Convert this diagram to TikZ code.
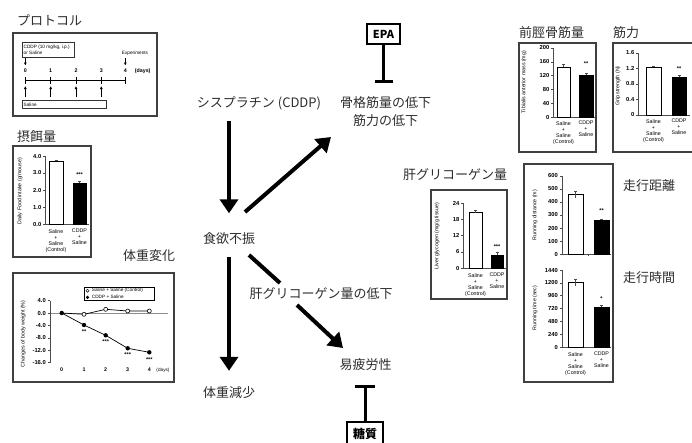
\documentclass[tikz,border=0pt]{standalone}
\usepackage{fontspec}
\setmainfont{Noto Sans CJK JP}
\newfontfamily\chartfont{Liberation Sans}
\usetikzlibrary{arrows.meta,calc}
\tikzset{
  jp/.style={font=\fontsize{13}{18}\selectfont, text=black!82, inner sep=0pt},
  ttl/.style={jp, anchor=west},
  frame/.style={draw=black!75, line width=1.1pt},
  axl/.style={draw=black!70, line width=0.5pt},
  wbar/.style={draw=black, fill=white, line width=0.9pt},
  bbar/.style={draw=black, fill=black, line width=0.9pt},
  err/.style={draw=black!70, line width=0.5pt},
  tk/.style={font=\chartfont\bfseries\fontsize{5.8}{6}\selectfont, inner sep=0pt, anchor=east},
  xl/.style={font=\chartfont\fontsize{5.3}{6}\selectfont, align=center, inner sep=0pt, anchor=north},
  yl/.style={font=\chartfont\fontsize{5.3}{6}\selectfont, rotate=90, inner sep=0pt},
  stars/.style={font=\chartfont\bfseries\fontsize{5.5}{6}\selectfont, inner sep=0pt},
  ptxt/.style={font=\chartfont\fontsize{4.7}{5.5}\selectfont, inner sep=0pt},
  pday/.style={font=\chartfont\bfseries\fontsize{5.3}{6}\selectfont, inner sep=0pt},
  pline/.style={draw=black, line width=0.8pt},
  parrow/.style={draw=black, line width=0.8pt, -{Latex[length=3pt,width=3pt]}},
  bigarrow/.style={draw=black, line width=4pt, -{Triangle[width=18pt,length=14pt]}},
  bigline/.style={draw=black, line width=4pt},
  inhib/.style={draw=black, line width=3pt},
  blocker/.style={draw=black, line width=1.5pt, fill=white, font=\bfseries\fontsize{11}{13}\selectfont, inner sep=0pt},
}
\begin{document}
\begin{tikzpicture}[x=1pt,y=-1pt]
\fill[white] (0,0) rectangle (692,442);
\useasboundingbox (0,0) rectangle (692,442);

% ---------- titles ----------
\node[ttl] (tprot) at (17,20.5) {プロトコル};
\node[ttl] (tfood) at (17,137) {摂餌量};
\node[ttl] (tbw) at (123,256) {体重変化};
\node[ttl] (tta) at (519,32.5) {前脛骨筋量};
\node[ttl] (tgrip) at (613,32.5) {筋力};
\node[ttl] (tliver) at (403,175) {肝グリコーゲン量};
\node[ttl] (tdist) at (623,186) {走行距離};
\node[ttl] (ttime) at (623,277.5) {走行時間};

% ---------- protocol ----------
\draw[frame] (13,33) rectangle (157,116);
\draw[draw=black!80, line width=0.5pt] (22,42.7) rectangle (74,57.3);
\node[ptxt, anchor=west] at (23.5,46.8) {CDDP (10 mg/kg, i.p.)};
\node[ptxt, anchor=west] at (23.5,52.6) {or Saline};
\node[ptxt] at (135,53.3) {Experiments};
\draw[parrow] (25.3,58) -- (25.3,65.5);
\draw[parrow] (125.3,58.3) -- (125.3,65.5);
\foreach \x/\d in {25.3/0,50.7/1,76/2,101.3/3,125.3/4}
  \node[pday] at (\x,70.7) {\d};
\node[pday] at (142.7,70.7) {(days)};
\draw[pline] (25.3,80) -- (125.3,80);
\foreach \x in {25.3,50.7,76,101.3,125.3}
  \draw[pline] (\x,76.5) -- (\x,83.5);
\foreach \x in {25.3,50.7,76,101.3}
  \draw[parrow] (\x,97) -- (\x,86);
\draw[draw=black!80, line width=0.5pt] (22,100.7) rectangle (106,108.7);
\node[ptxt, anchor=west] at (23.5,104.7) {Saline};

% ---------- food intake ----------
\draw[frame] (13,146) rectangle (91,257);
\draw[axl] (45,156) -- (45,224) -- (89,224);
\foreach \v/\t in {0/0.0,1/1.0,2/2.0,3/3.0,4/4.0}{
  \draw[axl] (43,224-17*\v) -- (45,224-17*\v);
  \node[tk] at (41.5,224-17*\v) {\t};}
\draw[wbar] (49,224) rectangle (63,161.1);
\draw[err] (56,161.1) -- (56,160.2) (54.5,160.2) -- (57.5,160.2);
\draw[bbar] (73,224) rectangle (86,183.2);
\draw[err] (79.5,183.2) -- (79.5,181.5) (78,181.5) -- (81,181.5);
\node[stars] at (79.5,175) {***};
\node[xl] at (56,229) {Saline\\+\\Saline\\(Control)};
\node[xl] at (79.5,229) {CDDP\\+\\Saline};
\node[yl] at (20,191) {Daily Food intake (g/mouse)};

% ---------- body weight ----------
\draw[frame] (13,273) rectangle (174,382);
\draw[draw=black!45, line width=0.6pt] (50,313) -- (168,313);
\draw[axl] (50,300.6) -- (50,362.6);
\foreach \v/\t in {4/4.0,0/0.0,-4/-4.0,-8/-8.0,-12/-12.0,-16/-16.0}{
  \draw[axl] (48,313-3.1*\v) -- (50,313-3.1*\v);
  \node[tk] at (46,313-3.1*\v) {\t};}
\foreach \x/\d in {61.7/0,84/1,105.7/2,127.7/3,149.3/4}
  \node[pday] at (\x,370) {\d};
\node[ptxt] at (163,370) {(days)};
\draw[line width=0.7pt] (61.7,313) -- (84,314.3) -- (105.7,309.3) -- (127.7,311) -- (149.3,311);
\draw[line width=0.7pt] (61.7,313) -- (84,325) -- (105.7,335.3) -- (127.7,348.3) -- (149.3,352.3);
\foreach \x/\y in {84/314.3,105.7/309.3,127.7/311,149.3/311}
  \draw[fill=white, line width=0.6pt] (\x,\y) circle (2pt);
\foreach \x/\y in {61.7/313,84/325,105.7/335.3,127.7/348.3,149.3/352.3}
  \fill[black] (\x,\y) circle (2.2pt);
\node[stars] at (84,331.5) {**};
\node[stars] at (105.7,342) {***};
\node[stars] at (127.7,355) {***};
\node[stars] at (149.3,359.5) {***};
\draw[line width=0.5pt] (84,287.3) rectangle (154,300.7);
\draw[fill=white, line width=0.5pt] (87.5,290.7) circle (1.6pt);
\fill[black] (87.5,297.3) circle (1.7pt);
\node[ptxt, anchor=west] at (91.7,290.7) {Saline + Saline (Control)};
\node[ptxt, anchor=west] at (91.7,297.3) {CDDP + Saline};
\node[yl] at (23.3,334) {Changes of body weight (\%)};

% ---------- tibialis anterior ----------
\draw[frame] (519,43) rectangle (596,152);
\draw[axl] (553,48) -- (553,117) -- (595,117);
\foreach \v in {0,40,80,120,160,200}{
  \draw[axl] (551,117-0.345*\v) -- (553,117-0.345*\v);
  \node[tk] at (549.5,117-0.345*\v) {\v};}
\draw[wbar] (557,117) rectangle (570,67);
\draw[err] (563.5,67) -- (563.5,64.5) (562,64.5) -- (565,64.5);
\draw[bbar] (579,117) rectangle (593,75);
\draw[err] (586,75) -- (586,73.5) (584.5,73.5) -- (587.5,73.5);
\node[stars] at (586,63.5) {**};
\node[xl] at (563.5,121) {Saline\\+\\Saline\\(Control)};
\node[xl] at (586,121) {CDDP\\+\\Saline};
\node[yl] at (524,82) {Tibialis anterior mass (mg)};

% ---------- grip ----------
\draw[frame] (613,43) rectangle (700,152);
\draw[axl] (638,53) -- (638,115) -- (690,115);
\foreach \v/\t in {0/0,0.4/0.4,0.8/0.8,1.2/1.2,1.6/1.6}{
  \draw[axl] (636,115-38.75*\v) -- (638,115-38.75*\v);
  \node[tk] at (634.5,115-38.75*\v) {\t};}
\draw[wbar] (646,115) rectangle (661,67.3);
\draw[err] (653.5,67.3) -- (653.5,66) (652,66) -- (655,66);
\draw[bbar] (672,115) rectangle (686,77.4);
\draw[err] (679,77.4) -- (679,75.5) (677.5,75.5) -- (680.5,75.5);
\node[stars] at (679,68.5) {**};
\node[xl] at (653.5,119) {Saline\\+\\Saline\\(Control)};
\node[xl] at (679,119) {CDDP\\+\\Saline};
\node[yl] at (618,86) {Grip strength (N)};

% ---------- liver glycogen ----------
\draw[frame] (431,190) rectangle (507,299);
\draw[axl] (463,203) -- (463,268) -- (506,268);
\foreach \v in {0,6,12,18,24}{
  \draw[axl] (461,268-2.708*\v) -- (463,268-2.708*\v);
  \node[tk] at (459.5,268-2.708*\v) {\v};}
\draw[wbar] (469,268) rectangle (482,212.5);
\draw[err] (475.5,212.5) -- (475.5,210.3) (474,210.3) -- (477,210.3);
\draw[bbar] (491,268) rectangle (503,255);
\draw[err] (497,255) -- (497,252.3) (495.5,252.3) -- (498.5,252.3);
\node[stars] at (497,247) {***};
\node[xl] at (475.5,273) {Saline\\+\\Saline\\(Control)};
\node[xl] at (497,273) {CDDP\\+\\Saline};
\node[yl] at (437,236) {Liver glycogen (mg/g tissue)};

% ---------- running ----------
\draw[frame] (524,164) rectangle (613,382);
\draw[axl] (562,176) -- (562,254) -- (611,254);
\draw[axl] (588.5,254) -- (588.5,256);
\foreach \v in {0,100,200,300,400,500,600}{
  \draw[axl] (560,254-0.13*\v) -- (562,254-0.13*\v);
  \node[tk] at (558,254-0.13*\v) {\v};}
\draw[wbar] (568,254) rectangle (583,194.8);
\draw[err] (575.5,198) -- (575.5,191) (574,191) -- (577,191);
\draw[bbar] (594,254) rectangle (609,220.2);
\draw[err] (601.5,220.2) -- (601.5,219) (600,219) -- (603,219);
\node[stars] at (601.5,211) {**};
\node[yl] at (535,215) {Running distance (m)};

\draw[axl] (562,270) -- (562,347) -- (611,347);
\foreach \v in {0,240,480,720,960,1200,1440}{
  \draw[axl] (560,347-0.05347*\v) -- (562,347-0.05347*\v);
  \node[tk] at (558,347-0.05347*\v) {\v};}
\draw[wbar] (568,347) rectangle (583,282.8);
\draw[err] (575.5,286) -- (575.5,279) (574,279) -- (577,279);
\draw[bbar] (594,347) rectangle (609,307.4);
\draw[err] (601.5,307.4) -- (601.5,305.5) (600,305.5) -- (603,305.5);
\node[stars] at (601.5,299) {*};
\node[xl] at (575.5,352) {Saline\\+\\Saline\\(Control)};
\node[xl] at (601.5,352) {CDDP\\+\\Saline};
\node[yl] at (535,308) {Running time (sec)};

% ---------- main flow ----------
\node[jp] (cddp) at (259,103.5) {シスプラチン (CDDP)};
\node[jp, align=center] (muscle) at (385.5,112) {骨格筋量の低下\\筋力の低下};
\node[jp] (appetite) at (229,239) {食欲不振};
\node[jp] (glyco) at (321,294) {肝グリコーゲン量の低下};
\node[jp] (fatigue) at (365.5,364.5) {易疲労性};
\node[jp] (weight) at (229,392.5) {体重減少};
\node[blocker, minimum width=33pt, minimum height=20pt] (epa) at (383.5,34) {EPA};
\node[blocker, font=\bfseries\fontsize{12}{14}\selectfont, minimum width=36pt, minimum height=24pt] (sugar) at (365,434) {糖質};

\draw[bigarrow, shorten <=10.5pt, shorten >=19.5pt] (cddp.south -| appetite) -- (appetite.north);
\draw[bigarrow, shorten <=11.5pt, shorten >=15.5pt] (appetite.south) -- (weight.north);
\draw[bigarrow] ($(appetite)+(16,-27)$) -- ($(muscle)+(-54.5,25)$);
\draw[bigline] ($(appetite)+(20,16)$) -- ($(glyco)+(-41,-11)$);
\draw[bigarrow] ($(glyco)+(-24,11)$) -- ($(fatigue)+(-22.5,-16.5)$);
\draw[inhib, -{Bar[width=18pt]}, shorten >=13.5pt] (epa.south) -- (epa.south |- muscle.north);
\draw[inhib, -{Bar[width=20pt]}, shorten >=14.5pt] (sugar.north) -- (sugar.north |- fatigue.south);
\end{tikzpicture}
\end{document}
